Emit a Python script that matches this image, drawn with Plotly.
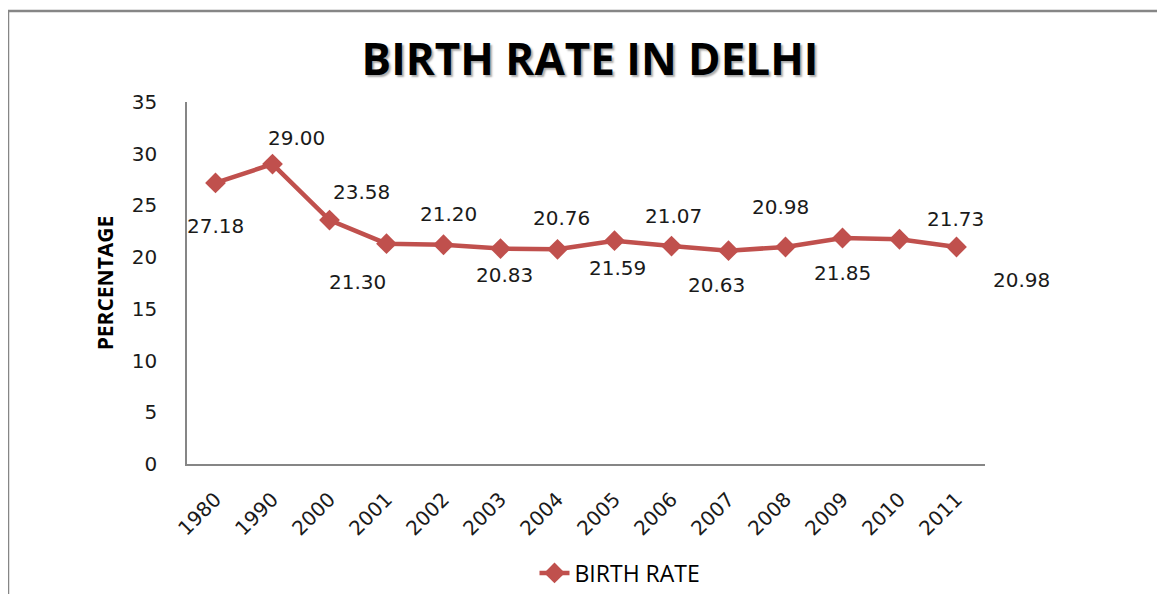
import plotly.graph_objects as go

years = ["1980", "1990", "2000", "2001", "2002", "2003", "2004",
         "2005", "2006", "2007", "2008", "2009", "2010", "2011"]
birth_rate = [27.18, 29.00, 23.58, 21.30, 21.20, 20.83, 20.76,
              21.59, 21.07, 20.63, 20.98, 21.85, 21.73, 20.98]

# label offsets in pixels (right, down) from each point
label_dx = [0, 24, 32, -29, 5, 4, 4, 3, 2, -12, -5, 0, 56, 65]
label_dy = [43, -26, -28, 38, -31, 26, -31, 27, -30, 34, -40, 35, -20, 33]

red = "#C0504D"
grey = "#868686"
num_font = dict(family="DejaVu Sans", size=20, color="#1a1a1a")

# the page body adds an 8px margin, so the figure is 8px smaller each way
OFF = 8
W, H = 1165 - OFF, 594 - OFF
ml, mt = 187 - OFF, 102 - OFF
pw, ph = 798, 362
mr, mb = W - ml - pw, H - mt - ph

fig = go.Figure()
fig.add_trace(go.Scatter(
    x=years, y=birth_rate, mode="lines+markers", name="BIRTH RATE",
    line=dict(color=red, width=4.5),
    marker=dict(symbol="diamond", size=16, color=red),
))

# numeric-looking category names would be read as indices, so place by index
for i, v in enumerate(birth_rate):
    fig.add_annotation(x=i, y=v, text="{:.2f}".format(v), showarrow=False,
                       xshift=label_dx[i], yshift=-label_dy[i], font=num_font)

# outer chart border
fig.add_shape(type="rect", xref="paper", yref="paper",
              x0=(8 - OFF - ml) / pw, x1=(W + 20 - ml) / pw,
              y0=-(H + 20 - mt - ph) / ph, y1=(mt + ph - (11 - OFF)) / ph,
              line=dict(color=grey, width=2.5), layer="below")

fig.update_layout(
    width=W, height=H,
    margin=dict(l=ml, r=mr, t=mt, b=mb, autoexpand=False),
    paper_bgcolor="white", plot_bgcolor="white",
    title=dict(text="<b>BIRTH RATE IN DELHI</b>", x=(590 - OFF) / W, xanchor="center",
               y=1 - (60 - OFF) / H, yanchor="middle",
               font=dict(family="Open Sans", size=44, color="black",
                         shadow="2px 2px 2px #aaaaaa")),
    showlegend=True,
    legend=dict(orientation="h", x=(620 - OFF) / W, xanchor="center", xref="container",
                y=1 - (573 - OFF) / H, yanchor="middle", yref="container",
                font=dict(family="Open Sans", size=23, color="black")),
)
fig.update_xaxes(type="category", range=[-0.5, len(years) - 0.5],
                 showgrid=False, showline=True, automargin=False,
                 linecolor=grey, linewidth=1.5, tickangle=-45,
                 ticklabelstandoff=14, tickfont=num_font)
fig.update_yaxes(range=[0, 35], dtick=5, showgrid=False, showline=True,
                 linecolor=grey, linewidth=1.5, zeroline=False, automargin=False,
                 ticklabelstandoff=24, tickfont=num_font,
                 title=dict(text="<b>PERCENTAGE</b>", standoff=12,
                            font=dict(family="Open Sans", size=21, color="black")))

fig.write_html("out.html")
